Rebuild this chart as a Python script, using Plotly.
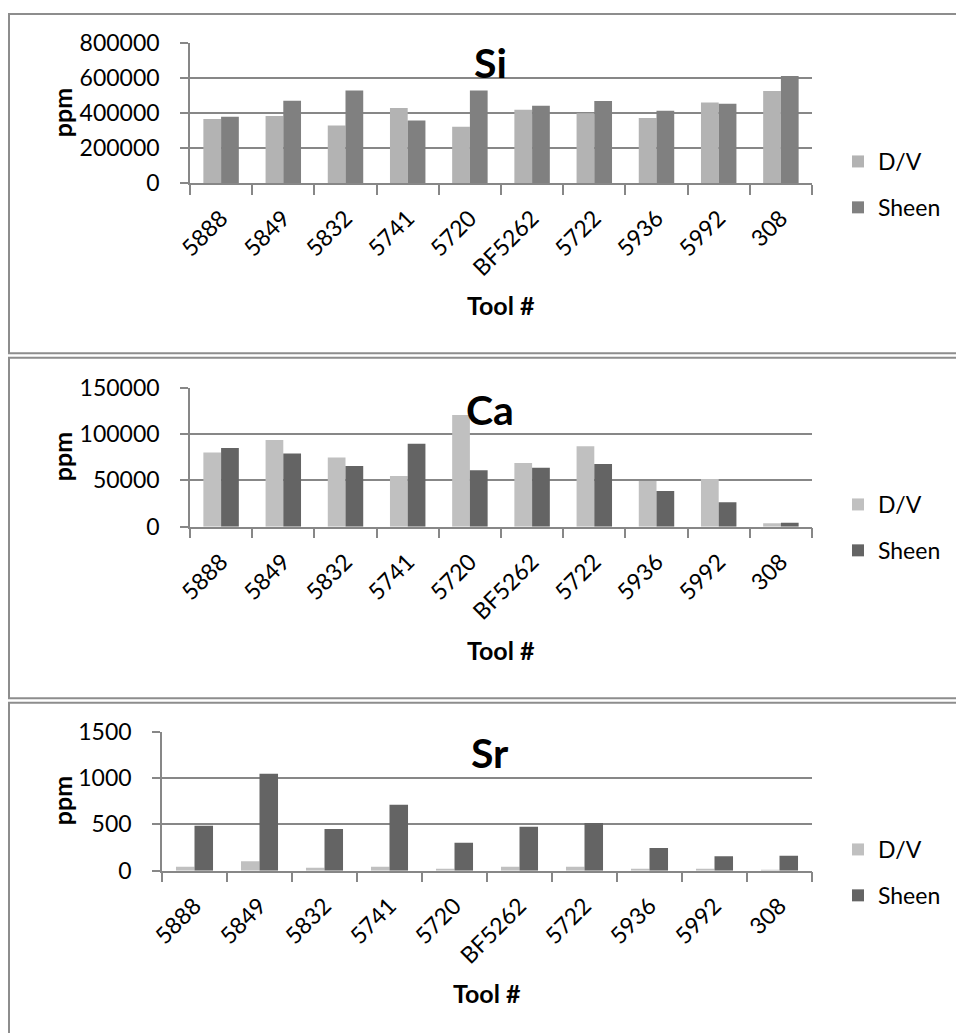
import plotly.graph_objects as go

# Tool numbers on the category axis
tools = ["5888", "5849", "5832", "5741", "5720", "BF5262", "5722", "5936", "5992", "308"]

# Element concentrations (ppm) per tool, D/V vs Sheen
si_dv = [367000, 383000, 329000, 429000, 322000, 419000, 400000, 372000, 461000, 527000]
si_sheen = [379000, 471000, 530000, 358000, 530000, 442000, 469000, 414000, 454000, 613000]

ca_dv = [80200, 93500, 74800, 54700, 120500, 68700, 86700, 49300, 51400, 3600]
ca_sheen = [84900, 79100, 65500, 89600, 60800, 63700, 67700, 38500, 26300, 4300]

sr_dv = [43, 101, 32, 43, 22, 43, 43, 18, 15, 8]
sr_sheen = [486, 1047, 450, 712, 302, 475, 515, 245, 155, 162]

W, H = 956, 1033
FONT = "Lato, 'Open Sans', sans-serif"
GRID = "#878787"
BORDER = "#8d8d8d"


def px_x(x):
    return x / W


def px_y(y):
    return 1 - y / H


panels = [
    dict(name="Si", dv=si_dv, sheen=si_sheen, dv_col="#b3b3b3", sh_col="#808080",
         left=190, top=43.3, bottom=183, ymax=800000, dtick=200000,
         box=(14, 353.3), leg_y=160, title_y=63, tool_y=305),
    dict(name="Ca", dv=ca_dv, sheen=ca_sheen, dv_col="#c0c0c0", sh_col="#646464",
         left=190, top=387.7, bottom=526.7, ymax=150000, dtick=50000,
         box=(357.7, 698.3), leg_y=503, title_y=409, tool_y=650),
    dict(name="Sr", dv=sr_dv, sheen=sr_sheen, dv_col="#c0c0c0", sh_col="#646464",
         left=162, top=731.7, bottom=870.7, ymax=1500, dtick=500,
         box=(702.7, 1045), leg_y=848, title_y=752, tool_y=993),
]
RIGHT = 812

fig = go.Figure()
shapes = []
annotations = []

for i, p in enumerate(panels, start=1):
    sfx = "" if i == 1 else str(i)
    legend_name = "legend" if i == 1 else f"legend{i}"
    fig.add_trace(go.Bar(
        x=tools, y=p["dv"], name="D/V", marker=dict(color=p["dv_col"], line=dict(width=0)),
        xaxis=f"x{sfx}", yaxis=f"y{sfx}", legend=legend_name, legendgroup=f"dv{i}",
    ))
    fig.add_trace(go.Bar(
        x=tools, y=p["sheen"], name="Sheen", marker=dict(color=p["sh_col"], line=dict(width=0)),
        xaxis=f"x{sfx}", yaxis=f"y{sfx}", legend=legend_name, legendgroup=f"sh{i}",
    ))

    fig.layout[f"xaxis{sfx}"] = dict(
        domain=[px_x(p["left"]), px_x(RIGHT)], anchor=f"y{sfx}",
        type="category", tickangle=-45, tickson="boundaries",
        ticks="outside", ticklen=10, tickcolor=GRID, tickwidth=1.5,
        ticklabelstandoff=11, automargin=False,
        showline=True, linecolor=GRID, linewidth=1.5, showgrid=False,
        tickfont=dict(family=FONT, size=23, color="#000"),
        fixedrange=True,
    )
    fig.layout[f"yaxis{sfx}"] = dict(
        domain=[px_y(p["bottom"]), px_y(p["top"])], anchor=f"x{sfx}",
        range=[0, p["ymax"]], dtick=p["dtick"], tick0=0,
        ticks="outside", ticklen=8, tickcolor=GRID, tickwidth=1.5,
        ticklabelstandoff=16, automargin=False,
        showline=True, linecolor=GRID, linewidth=1.5,
        showgrid=True, gridcolor=GRID, gridwidth=1.5, zeroline=False,
        tickformat="d",
        tickfont=dict(family=FONT, size=23, color="#000"),
        fixedrange=True,
    )

    fig.layout[legend_name] = dict(
        x=px_x(838), y=px_y(p["leg_y"] - 20), xanchor="left", yanchor="top",
        font=dict(family=FONT, size=23, color="#000"),
        bgcolor="rgba(0,0,0,0)", tracegroupgap=13, itemwidth=30,
        traceorder="grouped",
    )

    # panel frame
    shapes.append(dict(
        type="rect", xref="paper", yref="paper",
        x0=px_x(9), x1=px_x(970), y0=px_y(p["box"][1]), y1=px_y(p["box"][0]),
        line=dict(color=BORDER, width=2), fillcolor="rgba(0,0,0,0)", layer="below",
    ))

    # element name
    annotations.append(dict(
        text=f"<b>{p['name']}</b>", x=px_x(490), y=px_y(p["title_y"]),
        xref="paper", yref="paper", xanchor="center", yanchor="middle",
        showarrow=False, font=dict(family=FONT, size=41, color="#000"),
    ))
    # axis titles
    annotations.append(dict(
        text="<b>ppm</b>", x=px_x(62), y=px_y((p["top"] + p["bottom"]) / 2),
        xref="paper", yref="paper", xanchor="center", yanchor="middle",
        textangle=-90, showarrow=False, font=dict(family=FONT, size=25, color="#000"),
    ))
    annotations.append(dict(
        text="<b>Tool #</b>", x=px_x((p["left"] + RIGHT) / 2), y=px_y(p["tool_y"]),
        xref="paper", yref="paper", xanchor="center", yanchor="middle",
        showarrow=False, font=dict(family=FONT, size=25, color="#000"),
    ))

fig.update_layout(
    width=W, height=H,
    margin=dict(l=0, r=0, t=0, b=0, autoexpand=False),
    paper_bgcolor="white", plot_bgcolor="white",
    barmode="group", bargap=0.43, bargroupgap=0,
    shapes=shapes, annotations=annotations,
    font=dict(family=FONT, color="#000"),
)

fig.write_html(
    "out.html",
    config=dict(displayModeBar=False),
    post_script="document.body.style.margin='0';document.body.style.overflow='hidden';",
)
